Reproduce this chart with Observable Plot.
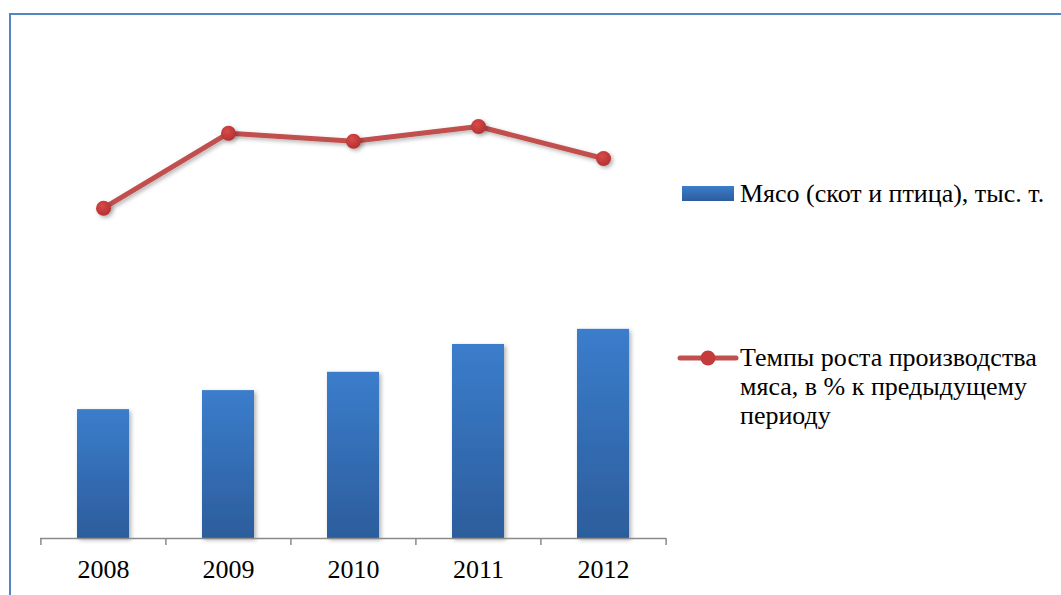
<!DOCTYPE html>
<html>
<head>
<meta charset="utf-8">
<script src="https://cdn.jsdelivr.net/npm/d3@7"></script>
<script src="https://cdn.jsdelivr.net/npm/@observablehq/plot@0.6"></script>
<style>
  html, body { margin: 0; padding: 0; background: #fff; overflow: hidden; }
  #wrap { position: relative; width: 1061px; height: 595px; overflow: hidden; }
  #frame { position: absolute; left: 9px; top: 13px; width: 1200px; height: 800px; border: 2px solid #5585c5; box-sizing: border-box; }
  #chart { position: absolute; left: 0; top: 0; }
  .lg { position: absolute; font-family: 'Liberation Serif', 'DejaVu Serif', serif; font-size: 26px; color: #000; line-height: 29px; white-space: nowrap; }
</style>
</head>
<body>
<div id="wrap">
  <div id="frame"></div>
  <div id="chart"></div>
  <svg id="sw1" style="position:absolute;left:676px;top:180px" width="64" height="28"></svg>
  <div class="lg" id="lg1" style="left:740px;top:179px">Мясо (скот и птица), тыс. т.</div>
  <svg id="sw2" style="position:absolute;left:674px;top:344px" width="70" height="30"></svg>
  <div class="lg" id="lg2" style="left:740px;top:343px">Темпы роста производства<br>мяса, в % к предыдущему<br>периоду</div>
</div>
<script>
const years = ["2008", "2009", "2010", "2011", "2012"];
const meat = [36.6, 42.0, 47.2, 55.1, 59.4];
const growth = [93.8, 115.1, 112.8, 117.0, 107.9];
const yMax = 140;

const W = 1061, H = 595;
const mL = 40, mR = 395, mT = 45, mB = 57;
const step = (W - mL - mR) / years.length;

const rows = years.map((y, i) => ({year: y, meat: meat[i], growth: growth[i]}));

const chart = Plot.plot({
  width: W, height: H,
  marginLeft: mL, marginRight: mR, marginTop: mT, marginBottom: mB,
  style: {background: "transparent", overflow: "visible"},
  x: {domain: years, paddingInner: 0.585, paddingOuter: 0.2925, label: null},
  y: {domain: [0, yMax], axis: null},
  marks: [
    Plot.barY(rows, {x: "year", y: "meat", fill: "url(#barGrad)", className: "bars"}),
    Plot.ruleY([0], {stroke: "#8a8a8a", strokeWidth: 1.5}),
    Plot.ruleX(years, {x: d => d, y1: 0, y2: 0, dx: -step / 2, insetBottom: -7, stroke: "#8a8a8a", strokeWidth: 1.5}),
    Plot.ruleX([years[years.length - 1]], {x: d => d, y1: 0, y2: 0, dx: step / 2, insetBottom: -7, stroke: "#8a8a8a", strokeWidth: 1.5}),
    Plot.axisX({tickSize: 0, tickPadding: 21, fontSize: 26, fontFamily: "'Liberation Serif', 'DejaVu Serif', serif", fill: "#000", label: null}),
    Plot.line(rows, {x: "year", y: "growth", stroke: "#c0504d", strokeWidth: 5, className: "gline"}),
    Plot.dot(rows, {x: "year", y: "growth", r: 7.5, fill: "url(#dotGrad)", stroke: "none", className: "gdots"})
  ]
});
document.getElementById("chart").appendChild(chart);

const ns = "http://www.w3.org/2000/svg";
function addDefs(svg) {
  const defs = document.createElementNS(ns, "defs");
  defs.innerHTML = `
    <linearGradient id="barGrad" x1="0" y1="0" x2="0" y2="1">
      <stop offset="0" stop-color="#3b7dcc"/>
      <stop offset="1" stop-color="#2c5d9c"/>
    </linearGradient>
    <radialGradient id="dotGrad" cx="0.4" cy="0.35" r="0.7">
      <stop offset="0" stop-color="#d84a48"/>
      <stop offset="1" stop-color="#b22f30"/>
    </radialGradient>
    <filter id="shadow" x="-30%" y="-30%" width="160%" height="160%">
      <feDropShadow dx="2" dy="2" stdDeviation="2" flood-color="#000" flood-opacity="0.3"/>
    </filter>`;
  svg.insertBefore(defs, svg.firstChild);
}
addDefs(chart);
chart.querySelectorAll(".bars rect, .gline path, .gdots circle").forEach(el => el.setAttribute("filter", "url(#shadow)"));

const sw1 = document.getElementById("sw1");
addDefs(sw1);
sw1.insertAdjacentHTML("beforeend", `<rect x="6" y="6" width="52" height="15" fill="url(#barGrad)"/>`);
const sw2 = document.getElementById("sw2");
sw2.innerHTML = `<line x1="6" y1="14" x2="62" y2="14" stroke="#c0504d" stroke-width="5" stroke-linecap="round"/>
  <circle cx="34" cy="14" r="7.5" fill="#c53a3a"/>`;
</script>
</body>
</html>
